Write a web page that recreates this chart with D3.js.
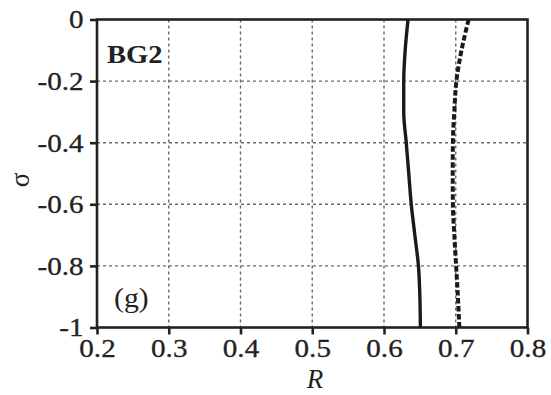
<!DOCTYPE html>
<html><head><meta charset="utf-8">
<script src="https://cdn.jsdelivr.net/npm/d3@7"></script>
<style>body{margin:0;background:#fff}svg{display:block}text{font-family:"Liberation Serif","Times New Roman",serif;fill:#222}</style>
</head><body><svg id="c" width="551" height="395"></svg>
<script>
const sigma = [0, -0.1, -0.2, -0.3, -0.4, -0.5, -0.6, -0.7, -0.8, -0.9, -1];
const solidR = [0.6335, 0.6295, 0.6275, 0.6275, 0.631, 0.6345, 0.638, 0.643, 0.648, 0.650, 0.6507];
const dashedR = [0.718, 0.708, 0.7009, 0.698, 0.696, 0.6958, 0.696, 0.698, 0.7005, 0.703, 0.705];
const xTicks = [0.2, 0.3, 0.4, 0.5, 0.6, 0.7, 0.8];
const yTicks = [0, -0.2, -0.4, -0.6, -0.8, -1];

const svg = d3.select("#c");
const L = 97, T = 19.5, R = 527.5, B = 327.5;
const x = d3.scaleLinear().domain([0.2, 0.8]).range([L, R]);
const y = d3.scaleLinear().domain([-1, 0]).range([B, T]);

// grid
svg.append("g").selectAll("line").data(xTicks.slice(1, -1)).join("line")
  .attr("x1", d => x(d)).attr("x2", d => x(d)).attr("y1", T).attr("y2", B)
  .attr("stroke", "#6a6a6a").attr("stroke-width", 1.4).attr("stroke-dasharray", "3,3");
svg.append("g").selectAll("line").data(yTicks.slice(1, -1)).join("line")
  .attr("y1", d => y(d)).attr("y2", d => y(d)).attr("x1", L).attr("x2", R)
  .attr("stroke", "#6a6a6a").attr("stroke-width", 1.4).attr("stroke-dasharray", "3,3");

// frame
svg.append("rect").attr("x", L).attr("y", T).attr("width", R - L).attr("height", B - T)
  .attr("fill", "none").attr("stroke", "#222").attr("stroke-width", 2.6);

// axes
const xAxis = svg.append("g").attr("transform", `translate(0,${B})`)
  .call(d3.axisBottom(x).tickValues(xTicks).tickSize(7).tickPadding(3).tickFormat(d3.format(".1f")));
const yAxis = svg.append("g").attr("transform", `translate(${L},0)`)
  .call(d3.axisLeft(y).tickValues(yTicks).tickSize(7).tickPadding(5).tickFormat(d => d === 0 ? "0" : d === -1 ? "-1" : d.toFixed(1)));
[xAxis, yAxis].forEach(a => {
  a.select(".domain").remove();
  a.selectAll(".tick line").attr("stroke", "#222").attr("stroke-width", 2.6);
  a.selectAll(".tick text").attr("font-size", 26).attr("fill", "#222")
    .attr("stroke", "#222").attr("stroke-width", 0.3)
    .attr("transform", "scale(1.12,1)")
    .style("font-family", '"Liberation Serif",serif');
});
xAxis.selectAll(".tick text").attr("dy", "0.75em");

// lines
const line = d3.line().x(d => x(d)).y((d, i) => y(sigma[i])).curve(d3.curveMonotoneY);
svg.append("path").attr("d", line(solidR)).attr("fill", "none").attr("stroke", "#1a1a1a").attr("stroke-width", 3.4);
svg.append("path").attr("d", line(dashedR)).attr("fill", "none").attr("stroke", "#1a1a1a").attr("stroke-width", 4).attr("stroke-dasharray", "5.5,2.5");

// labels
svg.append("text").attr("x", 107).attr("y", 63).attr("font-size", 26).attr("font-weight", "bold")
  .attr("transform", "translate(-10.7,0) scale(1.1,1)").text("BG2");
svg.append("text").attr("x", 114).attr("y", 307).attr("font-size", 27)
  .attr("transform", "translate(-11.4,0) scale(1.1,1)").text("(g)");
svg.append("text").attr("x", 315).attr("y", 388).attr("font-size", 27).attr("font-style", "italic").attr("text-anchor", "middle").text("R");
svg.append("text").attr("transform", "translate(29,180) rotate(-90)").attr("font-size", 27).attr("text-anchor", "middle").text("σ");
</script></body></html>
